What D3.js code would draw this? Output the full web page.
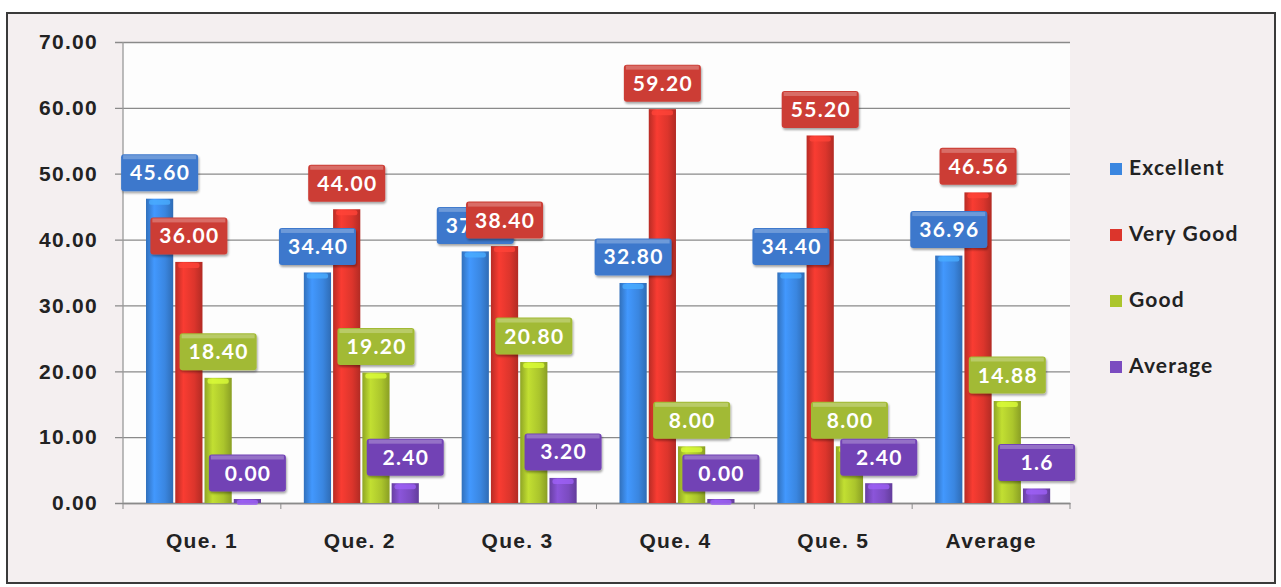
<!DOCTYPE html>
<html>
<head>
<meta charset="utf-8">
<script src="https://cdn.jsdelivr.net/npm/d3@7"></script>
<style>
  body { margin: 0; background: #fff; }
  svg { display: block; font-family: Lato, "Open Sans", sans-serif; }
</style>
</head>
<body>
<script>
  // chart data
  var categories = ["Que. 1", "Que. 2", "Que. 3", "Que. 4", "Que. 5", "Average"];
  var seriesNames = ["Excellent", "Very Good", "Good", "Average"];
  var excellent = [45.60, 34.40, 37.60, 32.80, 34.40, 36.96];
  var veryGood  = [36.00, 44.00, 38.40, 59.20, 55.20, 46.56];
  var good      = [18.40, 19.20, 20.80, 8.00, 8.00, 14.88];
  var average   = [0.00, 2.40, 3.20, 0.00, 2.40, 1.6];
  var yTicks = [0, 10, 20, 30, 40, 50, 60, 70];

  var seriesValues = [excellent, veryGood, good, average];
  var barColors = ["#3a86e0", "#dc352c", "#abc52c", "#7b4bc0"];
  var boxColors = ["#3d78cc", "#cc3d35", "#a2ba34", "#7242b5"];

  var width = 1281, height = 587;
  // plot area edges (window.top is reserved, so prefixed names)
  var plotLeft = 123, plotRight = 1070, plotTop = 42, plotBottom = 503;

  var svg = d3.select("body").append("svg")
      .attr("width", width)
      .attr("height", height);

  var defs = svg.append("defs");

  // cylinder-ish shading for each series
  barColors.forEach(function(c, i) {
    var g = defs.append("linearGradient")
        .attr("id", "bar" + i)
        .attr("x1", "0%").attr("x2", "100%")
        .attr("y1", "0%").attr("y2", "0%");
    g.append("stop").attr("offset", "0%").attr("stop-color", d3.color(c).darker(0.5));
    g.append("stop").attr("offset", "30%").attr("stop-color", d3.color(c).brighter(0.35));
    g.append("stop").attr("offset", "70%").attr("stop-color", c);
    g.append("stop").attr("offset", "100%").attr("stop-color", d3.color(c).darker(0.6));
  });

  var shadow = defs.append("filter").attr("id", "shadow")
      .attr("x", "-10%").attr("y", "-10%").attr("width", "130%").attr("height", "140%");
  shadow.append("feDropShadow")
      .attr("dx", 1).attr("dy", 2).attr("stdDeviation", 1.2)
      .attr("flood-color", "#000").attr("flood-opacity", 0.35);

  // outer frame
  svg.append("rect")
      .attr("x", 7).attr("y", 13)
      .attr("width", 1268).attr("height", 570)
      .attr("fill", "#f4eff0")
      .attr("stroke", "#3a3a3a")
      .attr("stroke-width", 2);

  svg.append("rect")
      .attr("x", plotLeft).attr("y", plotTop)
      .attr("width", plotRight - plotLeft).attr("height", plotBottom - plotTop)
      .attr("fill", "#fdfdfd");

  var x0 = d3.scaleBand()
      .domain(categories)
      .range([plotLeft, plotRight]);

  var x1 = d3.scaleBand()
      .domain(seriesNames)
      .range([23, 138])
      .paddingInner(0.07);

  var y = d3.scaleLinear()
      .domain([0, 70])
      .range([plotBottom, plotTop]);

  // gridlines + y labels
  var yAxis = d3.axisLeft(y)
      .tickValues(yTicks)
      .tickSize(0)
      .tickPadding(25)
      .tickFormat(d3.format(".2f"));

  var gy = svg.append("g")
      .attr("transform", "translate(" + plotLeft + ",0)")
      .call(yAxis);
  gy.select(".domain").remove();
  gy.selectAll(".tick line")
      .attr("x1", -8)
      .attr("x2", plotRight - plotLeft)
      .attr("stroke", "#8a8a8a")
      .attr("stroke-width", 1.3);
  gy.selectAll(".tick text")
      .attr("font-size", 21)
      .attr("font-weight", "bold")
      .attr("letter-spacing", 1.3)
      .attr("fill", "#222");

  svg.append("line")
      .attr("x1", plotLeft).attr("x2", plotLeft)
      .attr("y1", plotTop).attr("y2", plotBottom)
      .attr("stroke", "#9a9a9a").attr("stroke-width", 1.3);

  // x axis
  var xAxis = d3.axisBottom(x0).tickSize(0).tickPadding(30);
  var gx = svg.append("g")
      .attr("transform", "translate(0," + plotBottom + ")")
      .call(xAxis);
  gx.select(".domain").attr("stroke", "#8a8a8a").attr("stroke-width", 1.3);
  gx.selectAll(".tick text")
      .attr("font-size", 21)
      .attr("font-weight", "bold")
      .attr("letter-spacing", 1.3)
      .attr("fill", "#222");

  gx.selectAll(".sep")
      .data(d3.range(categories.length + 1))
      .enter().append("line")
      .attr("class", "sep")
      .attr("x1", function(i) { return plotLeft + i * x0.bandwidth(); })
      .attr("x2", function(i) { return plotLeft + i * x0.bandwidth(); })
      .attr("y1", 0).attr("y2", 6)
      .attr("stroke", "#8a8a8a");

  // bars
  var groups = svg.append("g").selectAll("g")
      .data(categories)
      .enter().append("g")
      .attr("transform", function(d) { return "translate(" + x0(d) + ",0)"; });

  groups.each(function(cat, ci) {
    var g = d3.select(this);
    seriesNames.forEach(function(s, si) {
      var v = seriesValues[si][ci];
      var bx = x1(s), bw = x1.bandwidth();
      g.append("rect")
          .attr("x", bx).attr("y", y(v) - 4)
          .attr("width", bw).attr("height", plotBottom - y(v) + 4)
          .attr("fill", "url(#bar" + si + ")");
      g.append("rect")
          .attr("x", bx + 3).attr("y", y(v) - 3)
          .attr("width", bw - 6).attr("height", 5)
          .attr("rx", 2)
          .attr("fill", d3.color(barColors[si]).brighter(0.7))
          .attr("opacity", 0.8);
    });
  });

  // value labels, drawn series by series so later ones sit on top
  var boxW = 77, boxH = 37;
  seriesNames.forEach(function(s, si) {
    categories.forEach(function(cat, ci) {
      var v = seriesValues[si][ci];
      var cx = x0(cat) + x1(s) + x1.bandwidth() / 2;
      var cy = y(v) - 30;
      var txt = (si === 3 && cat === "Average") ? String(v) : d3.format(".2f")(v);
      svg.append("rect")
          .attr("x", cx - boxW / 2).attr("y", cy - boxH / 2)
          .attr("width", boxW).attr("height", boxH)
          .attr("rx", 3)
          .attr("fill", boxColors[si])
          .attr("filter", "url(#shadow)");
      svg.append("rect")
          .attr("x", cx - boxW / 2 + 2).attr("y", cy - boxH / 2 + 1)
          .attr("width", boxW - 4).attr("height", 4)
          .attr("fill", "#fff").attr("opacity", 0.25);
      svg.append("text")
          .attr("x", cx + 0.6).attr("y", cy + 7.5)
          .attr("text-anchor", "middle")
          .attr("font-size", 21)
          .attr("font-weight", "bold")
          .attr("letter-spacing", 1.3)
          .attr("fill", "#fff")
          .text(txt);
    });
  });

  // legend
  var legend = svg.append("g").attr("transform", "translate(1110,168)");
  var item = legend.selectAll("g")
      .data(seriesNames)
      .enter().append("g")
      .attr("transform", function(d, i) { return "translate(0," + (i * 66) + ")"; });
  item.append("rect")
      .attr("x", 0).attr("y", -5)
      .attr("width", 12).attr("height", 12)
      .attr("fill", function(d, i) { return barColors[i]; });
  item.append("text")
      .attr("x", 19).attr("y", 7)
      .attr("font-size", 21)
      .attr("font-weight", "bold")
      .attr("letter-spacing", 1.2)
      .attr("fill", "#222")
      .text(function(d) { return d; });
</script>
</body>
</html>
